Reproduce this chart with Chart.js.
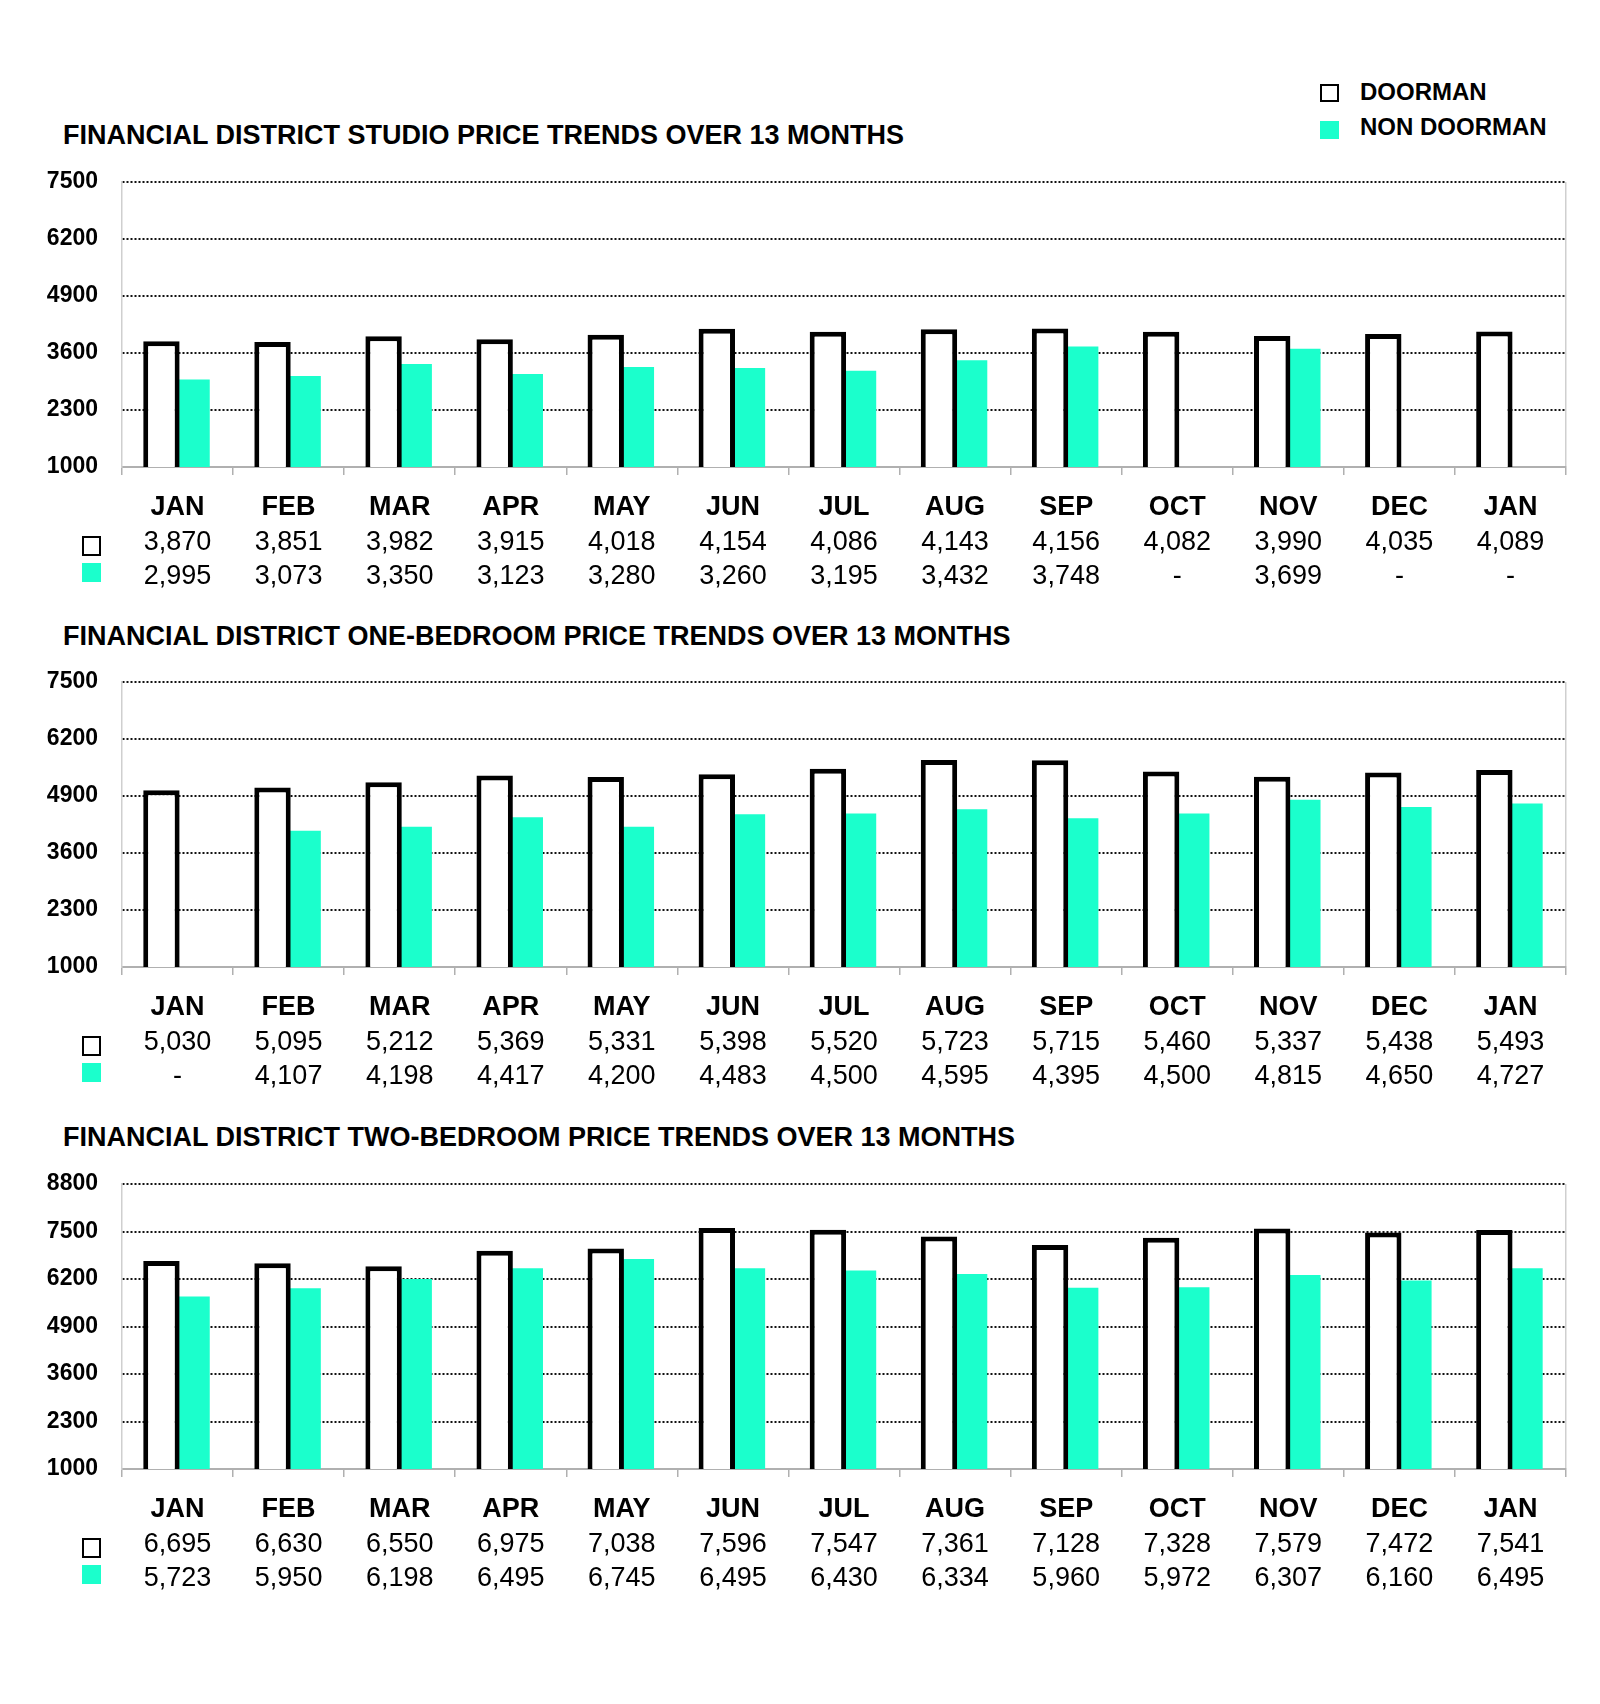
<!DOCTYPE html>
<html>
<head>
<meta charset="utf-8">
<script src="https://cdn.jsdelivr.net/npm/chart.js@4.4.1/dist/chart.umd.min.js"></script>
<style>
    body { margin: 0; background: #fff; font-family: "Liberation Sans", Arial, sans-serif; }
    #page { position: relative; width: 1600px; height: 1704px; overflow: hidden; }
    .title { position: absolute; left: 63px; font-weight: bold; font-size: 27px; line-height: 30px; color: #000; white-space: nowrap; }
    .wrap { position: absolute; left: 0; width: 1600px; height: 435px; }
    .lg-text { position: absolute; left: 1360px; font-weight: bold; font-size: 24px; line-height: 28px; color: #000; white-space: nowrap; }
    .lg-box { position: absolute; left: 1320px; width: 19px; height: 18px; box-sizing: border-box; }
</style>
</head>
<body>
<div id="page">
    <div class="lg-box" style="top:84px; border:2px solid #000;"></div>
    <div class="lg-text" style="top:78px;">DOORMAN</div>
    <div class="lg-box" style="top:121px; background:#1bffcc;"></div>
    <div class="lg-text" style="top:113px;">NON DOORMAN</div>

    <div class="title" style="top:120px;">FINANCIAL DISTRICT STUDIO PRICE TRENDS OVER 13 MONTHS</div>
    <div class="wrap" style="top:162px;"><canvas id="chartStudio"></canvas></div>

    <div class="title" style="top:621px;">FINANCIAL DISTRICT ONE-BEDROOM PRICE TRENDS OVER 13 MONTHS</div>
    <div class="wrap" style="top:662px;"><canvas id="chartOneBed"></canvas></div>

    <div class="title" style="top:1122px;">FINANCIAL DISTRICT TWO-BEDROOM PRICE TRENDS OVER 13 MONTHS</div>
    <div class="wrap" style="top:1164px;"><canvas id="chartTwoBed"></canvas></div>
</div>
<script>
const MONTHS = ['JAN', 'FEB', 'MAR', 'APR', 'MAY', 'JUN', 'JUL', 'AUG', 'SEP', 'OCT', 'NOV', 'DEC', 'JAN'];

const STUDIO_DOORMAN = [3870, 3851, 3982, 3915, 4018, 4154, 4086, 4143, 4156, 4082, 3990, 4035, 4089];
const STUDIO_NON = [2995, 3073, 3350, 3123, 3280, 3260, 3195, 3432, 3748, null, 3699, null, null];

const ONEBED_DOORMAN = [5030, 5095, 5212, 5369, 5331, 5398, 5520, 5723, 5715, 5460, 5337, 5438, 5493];
const ONEBED_NON = [null, 4107, 4198, 4417, 4200, 4483, 4500, 4595, 4395, 4500, 4815, 4650, 4727];

const TWOBED_DOORMAN = [6695, 6630, 6550, 6975, 7038, 7596, 7547, 7361, 7128, 7328, 7579, 7472, 7541];
const TWOBED_NON = [5723, 5950, 6198, 6495, 6745, 6495, 6430, 6334, 5960, 5972, 6307, 6160, 6495];

const Y_TICKS_SMALL = [1000, 2300, 3600, 4900, 6200, 7500];
const Y_TICKS_LARGE = [1000, 2300, 3600, 4900, 6200, 7500, 8800];

const TEAL = '#1bffcc';
const FONT = '"Liberation Sans", Arial, sans-serif';

// month names + value table under each chart, placed on the x scale
const valueRows = {
    id: 'valueRows',
    afterDraw(chart) {
        const { ctx, chartArea, scales } = chart;
        const base = chartArea.bottom;
        ctx.save();
        ctx.textAlign = 'center';
        ctx.textBaseline = 'middle';
        ctx.fillStyle = '#000';
        chart.data.labels.forEach((m, i) => {
            const px = scales.x.getPixelForValue(i);
            ctx.font = 'bold 27px ' + FONT;
            ctx.fillText(m, px, base + 41);
            ctx.font = '27px ' + FONT;
            chart.data.datasets.forEach((ds, r) => {
                const v = ds.data[i];
                ctx.fillText(v == null ? '-' : v.toLocaleString('en-US'), px, base + 76 + r * 34);
            });
        });
        ctx.lineWidth = 2;
        ctx.strokeStyle = '#000';
        ctx.strokeRect(83, base + 70, 17, 18);
        ctx.fillStyle = TEAL;
        ctx.fillRect(82, base + 96, 19, 19);
        ctx.restore();
    }
};

function makeChart(id, doorman, nonDoorman, yTicks) {
    new Chart(document.getElementById(id), {
        type: 'bar',
        data: {
            labels: MONTHS,
            datasets: [
                {
                    label: 'DOORMAN', data: doorman, backgroundColor: '#fff', borderColor: '#000',
                    borderWidth: 5, borderSkipped: false, barPercentage: 1.13
                },
                { label: 'NON DOORMAN', data: nonDoorman, backgroundColor: TEAL, borderWidth: 0 }
            ]
        },
        options: {
            responsive: true, maintainAspectRatio: false, animation: false,
            layout: { padding: { left: 0, right: 34, top: 20, bottom: 0 } },
            datasets: { bar: { categoryPercentage: 0.58, barPercentage: 1 } },
            plugins: { legend: { display: false }, tooltip: { enabled: false } },
            scales: {
                x: {
                    ticks: { display: false },
                    grid: {
                        offset: true,
                        color: c => c.type === 'scale' ? '#cfcfcf' : 'rgba(0,0,0,0)',
                        tickColor: '#b0b0b0', tickLength: 8, lineWidth: 1.5
                    },
                    border: { color: '#b0b0b0', width: 2 },
                    afterFit: s => { s.height = 130; }
                },
                y: {
                    min: yTicks[0], max: yTicks[yTicks.length - 1],
                    afterBuildTicks: s => { s.ticks = yTicks.map(v => ({ value: v })); },
                    ticks: { color: '#000', padding: 24, font: { family: FONT, size: 23, weight: 'bold' }, callback: v => String(v) },
                    grid: {
                        drawTicks: false, lineWidth: 2,
                        color: c => c.tick && c.tick.value === yTicks[0] ? 'rgba(0,0,0,0)' : '#111'
                    },
                    border: { color: '#cfcfcf', width: 1.5, dash: [2, 2] },
                    afterFit: s => { s.width = 122; s.paddingTop = 0; s.paddingBottom = 0; }
                }
            }
        },
        plugins: [valueRows]
    });
}

makeChart('chartStudio', STUDIO_DOORMAN, STUDIO_NON, Y_TICKS_SMALL);
makeChart('chartOneBed', ONEBED_DOORMAN, ONEBED_NON, Y_TICKS_SMALL);
makeChart('chartTwoBed', TWOBED_DOORMAN, TWOBED_NON, Y_TICKS_LARGE);
</script>
</body>
</html>
